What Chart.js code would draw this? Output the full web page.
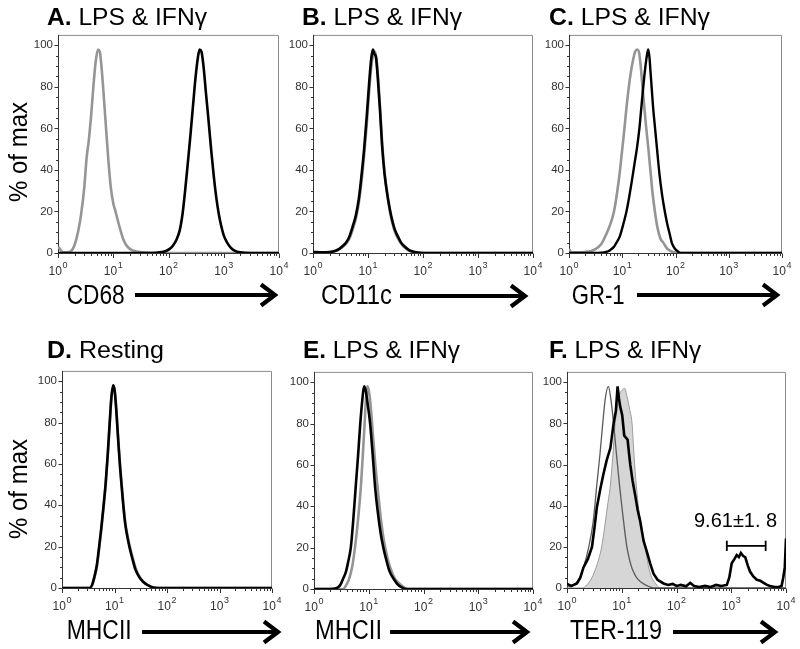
<!DOCTYPE html>
<html><head><meta charset="utf-8">
<script src="https://cdn.jsdelivr.net/npm/chart.js@4.4.1/dist/chart.umd.min.js"></script>
<style>
html,body{margin:0;padding:0;background:#fff;}
#wrap{position:relative;width:800px;height:649px;overflow:hidden;background:#fff;}
canvas{position:absolute;}
svg{position:absolute;left:0;top:0;}
svg text{font-family:Arial,"Liberation Sans",Helvetica,sans-serif;fill:#000;}
</style></head><body>
<div id="wrap">
<canvas id="cA" width="285" height="260" style="left:8px;top:23px;width:285px;height:260px"></canvas>
<canvas id="cB" width="284" height="260" style="left:263px;top:23px;width:284px;height:260px"></canvas>
<canvas id="cC" width="277" height="260" style="left:519px;top:23px;width:277px;height:260px"></canvas>
<canvas id="cD" width="274" height="259" style="left:12px;top:359px;width:274px;height:259px"></canvas>
<canvas id="cE" width="283" height="259" style="left:264px;top:360px;width:283px;height:259px"></canvas>
<canvas id="cF" width="283" height="258" style="left:517px;top:360px;width:283px;height:258px"></canvas>
<svg width="800" height="649" viewBox="0 0 800 649">
  <!-- panel titles -->
  <text x="47" y="24.5" font-size="23.5" textLength="160" lengthAdjust="spacingAndGlyphs"><tspan font-weight="bold">A.</tspan> LPS &amp; IFNγ</text>
  <text x="302" y="25" font-size="23.5" textLength="160" lengthAdjust="spacingAndGlyphs"><tspan font-weight="bold">B.</tspan> LPS &amp; IFNγ</text>
  <text x="549" y="25" font-size="23.5" textLength="161" lengthAdjust="spacingAndGlyphs"><tspan font-weight="bold">C.</tspan> LPS &amp; IFNγ</text>
  <text x="47" y="357.5" font-size="23.5" textLength="117" lengthAdjust="spacingAndGlyphs"><tspan font-weight="bold">D.</tspan> Resting</text>
  <text x="303" y="357.5" font-size="23.5" textLength="157" lengthAdjust="spacingAndGlyphs"><tspan font-weight="bold">E.</tspan> LPS &amp; IFNγ</text>
  <text x="549" y="357.5" font-size="23.5" textLength="152" lengthAdjust="spacingAndGlyphs"><tspan font-weight="bold">F.</tspan> LPS &amp; IFNγ</text>
  <!-- y titles -->
  <text transform="translate(27,152) rotate(-90)" text-anchor="middle" font-size="26" textLength="100" lengthAdjust="spacingAndGlyphs">% of max</text>
  <text transform="translate(27,489) rotate(-90)" text-anchor="middle" font-size="26" textLength="100" lengthAdjust="spacingAndGlyphs">% of max</text>
  <!-- x titles -->
  <text x="66.7" y="304" font-size="27" textLength="58" lengthAdjust="spacingAndGlyphs">CD68</text>
  <text x="321" y="304" font-size="27" textLength="71" lengthAdjust="spacingAndGlyphs">CD11c</text>
  <text x="571.7" y="304" font-size="27" textLength="53" lengthAdjust="spacingAndGlyphs">GR-1</text>
  <text x="66.7" y="639" font-size="27" textLength="65" lengthAdjust="spacingAndGlyphs">MHCII</text>
  <text x="315" y="639" font-size="27" textLength="67" lengthAdjust="spacingAndGlyphs">MHCII</text>
  <text x="570" y="639" font-size="27" textLength="92" lengthAdjust="spacingAndGlyphs">TER-119</text>
  <!-- arrows -->
  <g stroke="#000" fill="none" stroke-width="4.2" stroke-linejoin="miter">
    <path d="M135 295 H273"/><path d="M261 284.5 L275 295 L261 305.5"/>
    <path d="M400 296 H523"/><path d="M511 285.5 L525 296 L511 306.5"/>
    <path d="M637 295 H775"/><path d="M763 284.5 L777 295 L763 305.5"/>
    <path d="M142 632 H276"/><path d="M264 621.5 L278 632 L264 642.5"/>
    <path d="M390 632 H525"/><path d="M513 621.5 L527 632 L513 642.5"/>
    <path d="M673 632 H773"/><path d="M761 621.5 L775 632 L761 642.5"/>
  </g>
</svg>
</div>
<script>
// ---------- axis ticks ----------
const xTickVals = [1, 10, 100, 1000, 10000];
const xTickBase = '10';
const xTickExp = ['0', '1', '2', '3', '4'];
const yTickVals = [0, 20, 40, 60, 80, 100];
const yMinorVals = [0,5,10,15,20,25,30,35,40,45,50,55,60,65,70,75,80,85,90,95,100];
const xMinorMult = [2,3,4,5,6,7,8,9];

// ---------- Panel A : CD68 ----------
const aGrayX = [1, 1.08, 1.2, 1.4, 1.7, 2.0, 2.3, 2.6, 3.0, 3.3, 3.6, 4.0, 4.4, 4.8, 5.3, 5.7, 6.2, 6.8, 7.5, 8.2, 9.0, 10, 11, 12, 13.5, 15, 17, 20, 24, 30, 40, 100, 1000, 10000];
const aGrayY = [3, 2, 0.5, 0.3, 0.8, 4, 10, 18, 32, 46, 54, 67, 81, 92, 98, 97, 88, 74, 58, 44, 32, 24, 20, 16, 11, 7, 4, 2, 1, 0.5, 0.2, 0, 0, 0];
const aBlackX = [1, 10, 50, 70, 90, 105, 120, 140, 160, 180, 200, 225, 250, 280, 310, 340, 365, 395, 430, 480, 530, 590, 660, 730, 810, 900, 1000, 1150, 1350, 1600, 2000, 3000, 10000];
const aBlackY = [0, 0, 0, 0.3, 1, 2, 3.5, 6.5, 11, 19, 30, 44, 57, 72, 85, 94, 98, 97, 90, 76, 64, 50, 37, 27, 19, 13, 8.5, 5, 2.5, 1, 0.3, 0, 0];

// ---------- Panel B : CD11c ----------
const bX = [1, 1.5, 2, 2.5, 3, 3.5, 4, 4.6, 5.3, 6.0, 6.8, 7.6, 8.5, 9.5, 10.5, 11.5, 12.3, 13, 14, 15, 16.5, 18, 20, 22.5, 25, 28, 31, 35, 40, 47, 55, 65, 80, 100, 10000];
const bBlackY = [0.5, 0.3, 0.5, 1, 2, 3.5, 5, 8, 13, 18, 26, 37, 50, 66, 82, 94, 98, 96, 94, 85, 69, 52, 38, 28, 21, 15, 11, 8, 5, 3, 1.5, 0.7, 0.2, 0, 0];
const bGrayY = [0.3, 0.2, 0.4, 0.8, 1.7, 3, 4.5, 7, 11.5, 16.5, 24, 34, 47, 62, 78, 90, 95, 97, 95, 87, 71, 54, 39, 28, 20, 14, 10, 7, 4.5, 2.5, 1.2, 0.5, 0.1, 0, 0];

// ---------- Panel C : GR-1 ----------
const cGrayX = [1, 1.08, 1.2, 1.5, 2, 2.6, 3.2, 3.8, 4.2, 5, 6, 7, 8, 9, 10, 11, 12, 13.3, 14.5, 16, 17.5, 19, 20.5, 22, 24, 26, 28, 31, 34, 37, 41, 46, 52, 59, 68, 80, 95, 120, 10000];
const cGrayY = [2, 0.5, 0.3, 0.3, 0.5, 1, 2, 3.5, 5, 9, 14, 20, 29, 39, 50, 60, 70, 80, 87, 93, 97, 98, 97, 91, 80, 70, 61, 50, 39, 29, 20, 12, 7, 5, 2.5, 1, 0.3, 0, 0];
const cBlackX = [1, 3, 5, 6, 7, 7.8, 9, 10, 11, 12, 13.5, 15, 17, 19, 21, 23, 24.8, 27, 29, 30.7, 32.5, 34, 35.6, 38, 41, 45, 50, 56, 63, 70, 78, 85, 95, 110, 125, 10000];
const cBlackY = [0, 0, 0.5, 1.5, 3, 5, 8, 12, 16, 20, 27, 34, 43, 51, 60, 71, 80, 89, 95, 98, 94, 87, 80, 70, 61, 50, 38, 28, 20, 14, 9, 5, 2.5, 0.8, 0, 0];

// ---------- Panel D : MHCII resting ----------
const dX = [1, 3, 3.4, 3.8, 4.1, 4.6, 5.1, 5.6, 6.2, 6.8, 7.4, 8.1, 8.7, 9.4, 10, 10.6, 11.2, 12, 12.8, 13.6, 14.7, 16, 17.8, 19.6, 22, 25, 30, 35, 42, 55, 70, 10000];
const dBlackY = [0, 0, 0, 2, 5, 11, 20, 29, 40, 51, 64, 80, 92, 98, 96, 89, 80, 68, 58, 50, 40, 31, 24, 19, 14, 9, 5, 3, 1.5, 0.2, 0, 0];
const dGrayY = [0, 0, 0, 1.6, 4.5, 10, 19, 28, 39, 50, 63, 79, 91, 97, 96, 90, 81, 69, 59, 51, 41, 32, 25, 20, 15, 10, 5.5, 3.2, 1.6, 0.3, 0, 0];

// ---------- Panel E : MHCII LPS & IFNg ----------
const eBlackX = [1, 2, 2.4, 2.8, 3.1, 3.4, 3.8, 4.2, 4.7, 5.2, 5.8, 6.4, 7.0, 7.6, 8.2, 8.8, 9.5, 10.6, 11.8, 13, 14.5, 16.5, 18.5, 20.5, 23, 25.5, 28.5, 33, 40, 50, 10000];
const eBlackY = [0, 0, 0.2, 1, 2.5, 5, 8, 13, 20, 33, 50, 65, 80, 91, 98, 96, 90, 80, 65, 50, 38, 27, 20, 15, 10, 7, 5, 2.5, 0.8, 0, 0];
const eGrayX = [1, 3, 3.4, 3.9, 4.4, 5.0, 5.6, 6.4, 7.2, 7.8, 8.4, 8.9, 9.4, 10, 10.8, 11.8, 13, 14.4, 16, 18, 20, 22.5, 25, 30, 35, 42, 50, 10000];
const eGrayY = [0, 0, 0, 2, 5, 11, 20, 34, 50, 65, 80, 92, 98, 96, 89, 76, 62, 50, 38, 27, 20, 14, 10, 5, 3, 1.2, 0, 0];

// ---------- Panel F : TER-119 ----------
const fThinX = [1, 1.15, 1.4, 1.7, 2.0, 2.5, 3.0, 3.5, 4.0, 4.5, 5.0, 5.7, 6.3, 7.1, 8.0, 9.1, 10.2, 11.3, 12.4, 13.8, 15.2, 17, 18.7, 22, 27, 32, 38, 100, 10000];
const fThinY = [1.5, 0.5, 2, 5, 10, 20, 32, 50, 65, 80, 92, 98, 92, 80, 65, 50, 38, 28, 20, 14, 10, 7, 5, 3, 1.5, 0.6, 0, 0, 0];
const fFillX = [1, 1.9, 2.3, 2.85, 3.4, 3.8, 4.3, 4.9, 5.5, 6.2, 6.9, 7.6, 8.3, 9.1, 10, 11.3, 12.5, 13.9, 15.4, 16.8, 18.4, 20.5, 23.5, 26.8, 30.5, 35.4, 42, 50, 10000];
const fFillY = [0, 0, 1.5, 5, 10, 14, 20, 30, 40, 50, 65, 80, 88, 94, 96, 97, 93, 87, 80, 64, 50, 38, 28, 20, 11, 5, 2, 0, 0];
const fBlackX = [1, 1.2, 1.52, 1.75, 2.0, 2.4, 2.86, 3.2, 3.5, 4.05, 4.6, 5.3, 6.2, 7.1, 7.8, 8.4, 8.9, 9.4, 10.2, 11.1, 12.0, 12.8, 13.5, 14.3, 15.8, 17.6, 19.5, 21.7, 25, 29.5, 33, 38, 45, 58, 70, 85, 100, 120, 150, 178, 210, 260, 330, 420, 530, 650, 830, 920, 1020, 1140, 1260, 1380, 1500, 1650, 1800, 2000, 2200, 2550, 2930, 3400, 3900, 4500, 5100, 6200, 7300, 8300, 8900, 9500, 10000];
const fBlackY = [2, 1, 2.2, 5, 10, 14, 20, 30, 39, 48, 55, 62, 68, 80, 86, 98, 92, 88, 84, 74, 73, 72, 66, 60, 52, 45, 38, 32.5, 23, 16.6, 12, 7, 4, 2.2, 1.5, 2, 1, 1.5, 0.8, 2.5, 1, 0.5, 1, 0.5, 1.5, 1, 1.5, 5, 12, 14, 16, 15, 17, 15.5, 15, 11, 8, 5.5, 4, 3.5, 2.5, 1.5, 1, 0.5, 0.5, 1, 5, 10, 24];
const gateX = [830, 4250];
const gateY = 20.5;
const gateCap = [18, 23];
const annoText = '9.61\u00B11. 8';
const annoX = 1200;
const annoY = 29.5;

// ---------- rendering ----------
const FONT = 'Arial, "Liberation Sans", Helvetica, sans-serif';
const GRAY = '#959595';
const BLACK = '#000000';

function pts(xs, ys) { return xs.map((x, i) => ({ x: x, y: ys[i] })); }
function line(xs, ys, color, width, order, extra) {
  return Object.assign({
    data: pts(xs, ys), borderColor: color, borderWidth: width, fill: false,
    cubicInterpolationMode: 'monotone', pointRadius: 0, order: order
  }, extra || {});
}

const framePlugin = {
  id: 'frame',
  beforeDatasetsDraw(chart) {
    const { ctx, chartArea: a, scales } = chart;
    const xs = scales.x, ys = scales.y;
    ctx.save();
    ctx.lineWidth = 1;
    ctx.strokeStyle = '#8c8c8c';
    ctx.beginPath();
    ctx.moveTo(a.left, a.top + 0.5);
    ctx.lineTo(a.right - 0.5, a.top + 0.5);
    ctx.lineTo(a.right - 0.5, a.bottom);
    ctx.stroke();
    ctx.strokeStyle = '#333333';
    ctx.beginPath();
    ctx.moveTo(a.left + 0.5, a.top);
    ctx.lineTo(a.left + 0.5, a.bottom + 0.5);
    ctx.lineTo(a.right, a.bottom + 0.5);
    yMinorVals.forEach(v => {
      const py = Math.round(ys.getPixelForValue(v)) + 0.5;
      const len = (v % 20 === 0) ? 4 : 2.5;
      ctx.moveTo(a.left + 0.5 - len, py);
      ctx.lineTo(a.left + 0.5, py);
    });
    xTickVals.forEach((d, di) => {
      const px = Math.round(xs.getPixelForValue(d)) + 0.5;
      ctx.moveTo(px, a.bottom + 0.5);
      ctx.lineTo(px, a.bottom + 5);
      if (di < xTickVals.length - 1) {
        xMinorMult.forEach(m => {
          const qx = Math.round(xs.getPixelForValue(d * m)) + 0.5;
          ctx.moveTo(qx, a.bottom + 0.5);
          ctx.lineTo(qx, a.bottom + 3);
        });
      }
    });
    ctx.stroke();
    // x tick labels: 10 with superscript exponent, placed on the x scale
    ctx.fillStyle = '#333';
    ctx.textBaseline = 'alphabetic';
    ctx.textAlign = 'left';
    xTickVals.forEach((d, i) => {
      const px = xs.getPixelForValue(d);
      ctx.font = '12px ' + FONT;
      const wb = ctx.measureText(xTickBase).width;
      ctx.font = '9px ' + FONT;
      const we = ctx.measureText(xTickExp[i]).width;
      const x0 = px - (wb + we + 0.5) / 2;
      ctx.font = '12px ' + FONT;
      ctx.fillText(xTickBase, x0, a.bottom + 22);
      ctx.font = '9px ' + FONT;
      ctx.fillText(xTickExp[i], x0 + wb + 0.5, a.bottom + 15);
    });
    ctx.restore();
  }
};

const annoPlugin = {
  id: 'anno',
  afterDatasetsDraw(chart) {
    const { ctx, scales } = chart;
    ctx.save();
    ctx.fillStyle = '#000';
    ctx.font = '20px ' + FONT;
    ctx.textAlign = 'center';
    ctx.textBaseline = 'alphabetic';
    ctx.fillText(annoText, scales.x.getPixelForValue(annoX), scales.y.getPixelForValue(annoY));
    ctx.restore();
  }
};

function makeChart(id, datasets, extra) {
  return new Chart(document.getElementById(id), {
    type: 'line',
    data: { datasets: datasets },
    options: {
      responsive: false, animation: false, devicePixelRatio: 1,
      layout: { padding: { top: 10, right: 14, left: 0, bottom: 0 } },
      plugins: { legend: { display: false }, tooltip: { enabled: false } },
      elements: { point: { radius: 0 } },
      scales: {
        x: {
          type: 'logarithmic', min: 1, max: 10000,
          afterBuildTicks: s => { s.ticks = xTickVals.map(v => ({ value: v })); },
          afterFit: s => { s.height = 30; },
          grid: { display: false, drawTicks: false }, border: { display: false },
          ticks: { display: false }
        },
        y: {
          min: 0, max: 105,
          afterBuildTicks: s => { s.ticks = yTickVals.map(v => ({ value: v })); },
          afterFit: s => { s.width = 50; },
          grid: { display: false, drawTicks: false }, border: { display: false },
          ticks: { padding: 5, color: '#333', font: { family: FONT, size: 11.5 } }
        }
      }
    },
    plugins: [framePlugin].concat(extra || [])
  });
}

makeChart('cA', [line(aBlackX, aBlackY, BLACK, 2.6, 0), line(aGrayX, aGrayY, GRAY, 2.6, 1)]);
makeChart('cB', [line(bX, bBlackY, BLACK, 2.6, 0), line(bX, bGrayY, GRAY, 2.6, 1)]);
makeChart('cC', [line(cBlackX, cBlackY, BLACK, 2.4, 0), line(cGrayX, cGrayY, GRAY, 2.6, 1)]);
makeChart('cD', [line(dX, dBlackY, BLACK, 2.6, 0), line(dX, dGrayY, GRAY, 2.6, 1)]);
makeChart('cE', [line(eBlackX, eBlackY, BLACK, 2.6, 0), line(eGrayX, eGrayY, GRAY, 2.6, 1)]);
makeChart('cF', [
  line(fBlackX, fBlackY, BLACK, 2.6, 0, { cubicInterpolationMode: 'default', tension: 0 }),
  line(gateX, [gateY, gateY], BLACK, 1.8, 0, { cubicInterpolationMode: 'default', tension: 0 }),
  line([gateX[0], gateX[0]], gateCap, BLACK, 1.8, 0, { cubicInterpolationMode: 'default', tension: 0 }),
  line([gateX[1], gateX[1]], gateCap, BLACK, 1.8, 0, { cubicInterpolationMode: 'default', tension: 0 }),
  line(fThinX, fThinY, '#5a5a5a', 1.3, 1),
  line(fFillX, fFillY, '#9a9a9a', 1, 2, { fill: 'origin', backgroundColor: '#d6d6d6' })
], [annoPlugin]);
</script>
</body></html>
